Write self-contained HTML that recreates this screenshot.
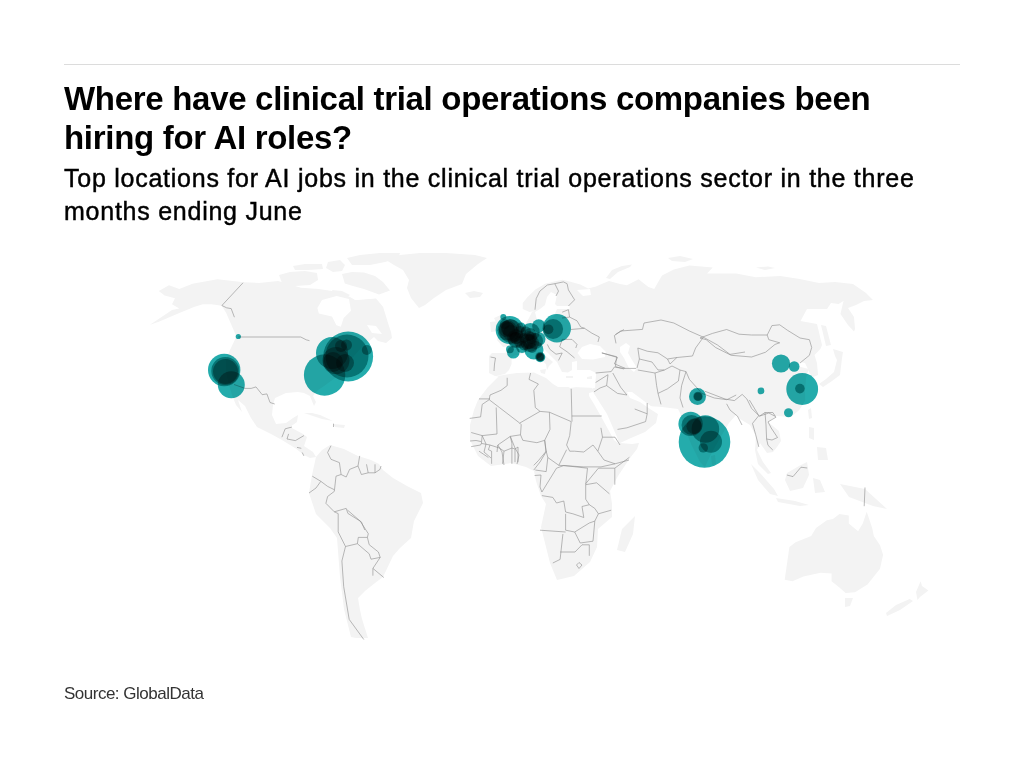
<!DOCTYPE html>
<html><head><meta charset="utf-8">
<style>
html,body{margin:0;padding:0;background:#fff;width:1024px;height:768px;overflow:hidden;position:relative;font-family:"Liberation Sans",sans-serif;}
.rule{position:absolute;left:64px;top:64px;width:896px;height:1px;background:#dcdcdc;}
.t{position:absolute;left:64px;white-space:nowrap;color:#000;}
#t1{top:80px;font-size:33px;font-weight:bold;line-height:37px;letter-spacing:-0.3px;}
#t2{top:119px;font-size:33px;font-weight:bold;line-height:37px;letter-spacing:-0.3px;}
#s1{top:162px;font-size:25px;line-height:33px;letter-spacing:0.75px;-webkit-text-stroke:0.45px #000;}
#s2{top:195px;font-size:25px;line-height:33px;letter-spacing:0.75px;-webkit-text-stroke:0.45px #000;}
#src{top:682px;font-size:17px;line-height:24px;color:#333;letter-spacing:-0.5px;}
svg{position:absolute;left:0;top:0;}
</style></head>
<body>
<div class="rule"></div>
<svg width="1024" height="768" viewBox="0 0 1024 768"><path d="M158.8,291 169,285.2 179.3,289 192.5,283.7 217.4,279.3 243.8,282.2 259,283 278,281 301,287.7 318.8,289 332,291 345,293 355,300 376,298.6 383,306.8 388,323 391,332 392,338 386,343 378,341 374,337 368,342 362,347 354,356 348,364 335,378 324,386 318,390 313,396 316,402 314,406 310,396 304,393 298,392 286,393 275,398 273,405 272,415 276,424 286,423 293,418 298,415 297,422 290,427 303,434 307,437 304,446 313,452 316,457 310,458 304,455 295,448 282,440 271,434 257,427 251,418 245,406 238,400 242,412 236,405 232,395 229,385 226,372 226,360 230,350 236.4,336.4 232,326.2 226.2,313 221.8,305.7 211.5,304.2 202.7,304.2 194,307 179.3,313 158.8,321.8 150,324.7 172,310 179.3,308.6 172,304.2 175,298.3 164.6,295.4ZM279,275 290,272 305,271 317,273 318,280 310,285 295,286 282,283ZM293,266 305,264 322,264 323,269 308,270 295,270ZM328,262 340,260 345,265 342,271 333,272 326,268ZM347,258 360,255 380,253 400,253 398,258 385,262 370,265 352,265ZM342,274 352,272 364,272.6 375,276 383,282 390,290.4 379,294.5 364,289 353,286 344.8,283.5ZM332,290 342,291 350,295 345,298 335,296ZM386,260 400,255 420,253 446,253 475,255 487,258 478,264 466,274 462,284 446,290 434,298 425,305 419,308 411,298 407,288 409,280 403,270 394,265ZM465,293 474,291 483,293 480,297 470,298ZM304,413 312,413 320,415 333,421 322,419ZM333,424 345,425 344,428 335,427ZM316,457 322,450 330,445 344,449 358,456 371,460 379,464 383,470 393,478 407,486 421,493 423,503 414,521 411,538 400,548 393,556 383,577 375,583 365,591 358,598 360,610 362,619 368,638 356,638 351,637 344,609 340,577 337,538 330,528 316,514 309,493 312,475ZM489,373 489,356 492,353 505,352.9 508,351 505,343 508,338 515,335 522,330 529,318 532,312 534.4,311 529.5,312 522.7,309 522.7,303 527.6,297 535.4,289.5 545.2,283.7 553,281.7 562.7,279.8 570.5,281.7 580.3,284.6 588.1,288.6 596,286.6 603.4,283.2 609,281 620,284 626.9,285.2 638.6,279.3 648.4,287.1 654.2,289 662,275.4 673.8,269.5 689.4,265.6 712.8,267.6 707,273.4 736.2,273.4 755.8,277.3 780,276 799.5,279 819,283 835,282 853,284 866,293 873,300 864,301 856,305 848,308 854,317 855,329 854,331.5 848,325 840.5,314 843.5,301 838.6,304 831,303 827,309 807,309 800.5,321 817,324 822,345 820.4,349 814.5,355 817,363 818,375 813.4,377 809.9,374 807.5,368 805,363 800.5,362 797,366 808.7,369 806,378 805,390 805.2,400.6 799.3,410 791,417 776,416 768,422 779,431 781,441 777,447 773,452 767,453 760,443 757,450 763,462 771,473 768,474 758,464 755,450 756,436 750,425 740,419 736,415 729,423 720,438 710,456 705,467 700,462 692,446 684,427 680,413 678,409 662,407 648,406 658,414 656,423 645,432 631,438 620,443 612,430 604,418 598,405 591,394 594,386 596,373 590,370 575,370 570,378 560,375 548,382 530,380 510,378 495,376ZM478,400 488,387 500,375 517,376 536,373 558,380 570,388 590,385 597,395 603,408 609,419 617,432 620,443 632,444 639,443 637,449 630,458 618,476 610,491 612,504 612,517 598,529 597,547 590,562 574,576 557,580 550,563 541,527 546,504 541,496 536,481 534,471 526,467 511,463 491,466 478,456 470,440 470,425 474,410ZM606,278 612,270 622,266 632,264.5 630,267 618,272 610,279ZM668,258 680,256 693,259 685,262 672,261ZM756,267.6 768,266.5 775,268 765,270ZM622,529 635,516 633,534 625,552 617,550ZM494,318 503,314 510,318 514,330 520,340 515,345 503,347 497,340 500,330ZM490,322 498,321 499,331 491,332ZM711,456 715,455 716,464 712,465ZM833,349 843,352 842,358 840,375 832,381 823,387 819,384 826,379 834,372 837,360 835,356ZM808,410 811,408 812,418 809,419ZM821,325 826,326 831,345 826,346ZM809,427 814,428 814,440 809,438ZM817,447 826,448 828,460 818,460ZM787,473 799,466 807,462 809,475 803,488 790,491 785,480ZM813,478 820,480 825,492 815,493ZM751,464 760,473 774,489 778,496 770,494 758,480ZM776,498 795,501 809,505 800,506 778,502ZM840,484 865,489 887,509 873,506 849,497ZM784.7,579.7 789.4,546.9 795.6,542.2 811.2,536 816,528 826.9,520.3 833,519 839.4,514 848.8,515.6 848.8,523.4 858.1,531.2 862.8,523.4 866.7,511.7 872.2,528.1 873.8,536 880,545.3 883.1,554.7 880,568.8 867.5,584.4 855,592.2 845.6,593 839.4,587.5 831.6,581.2 831.6,573.4 820.6,572.7 803.4,576.6 792.5,581.2ZM845,598 853,598 850,606 845,607ZM920.6,581.2 922,586 928.4,590.6 920,597 917.5,600 916,592ZM909.7,599 913,601 900,610 887,616 886,613 896,605Z" fill="#f3f3f3"/><path d="M497.6,375.5 505,374 509,370 511.6,364 511.6,358 515,355 518,355 522.5,353.8 530.7,350.6 537,347 544,349 557,362 560,368 562,372 568,372.5 572,370 572,362 577,361 577,372 590,374 596,373.5 595,388 574,387 558,387 553,384 546,378 534,372.6 517,373 497,376ZM577.5,353 582,347 590,344 600,346 606,352 605,357 593,359.5 582,359ZM620,347 626,343 630,346 628,353 632,360 637,368 634,372 629,368 624,358 620,352ZM589,393 593,392 607,414 617,437 619,444 614,440 603,420 594,404 589,396ZM627,392 632,392 648,404 657,410 658,414 650,409 640,402 630,398ZM551,292 557,295 555,304 557,306 569.6,306 569.6,309 557,309 554,316 548,320 537,320 535,312 540,309 545,305 547,297ZM577,290 590,289 591,295 583,296ZM317.4,308 322,300 336.6,296 349,299 351,310.7 343.7,318 340.8,326.8 336.4,325.3 332,316.5 318.8,313.6ZM348,296 360,294.5 376,298 356,300ZM367,325 376,326 382,334 372,333Z" fill="#fff"/><path d="M530.7,350.6 535,354 539,357.8 546,364 547,370 549,366 553,362 548,358 542,352 538,347.7 533,347ZM540,370 546,369 545,374 541,373ZM566,376 573,376 573,378 566,378ZM587,377 592,376 592,379 587,379Z" fill="#f3f3f3"/><path d="M507.2,377.8 507.2,385.6 501,390.3 490,395 489.2,399.7 482.2,404.4 480.6,416.9 469.7,418.4M479,398.9 490,398.9M489.2,399.7 499.4,407.5 519.7,423.1 540,411.4 549.4,412.2 571.2,421.6M496.2,407.5 497,434 482.2,435.6 471.2,432.5M530.6,373 529,379.4 538.4,384 533.8,390.3 535.3,407.5 540,411.4M571.2,388.8 572,421.6M571.8,416 601.7,416M519.7,423.1 521.2,424.7 520.5,434.8 510.3,436.4 497.8,445 497,452M482.2,435.6 486,444 484,452 491,458M497.8,445 502,452 504,465M510.3,436.4 515,448 519,455 517,464M549.4,412.2 550,429.4 544.7,440.3 536.9,442.7 522.8,440.3 520.5,434.8M544.7,440.3 546,452 540,462 533.8,470M571.2,421.6 569.7,435.6 566.6,445 569.7,451.2 574.4,451.2 583.8,452 593,445 597.8,451.2 602.5,437.2 600.9,427.8M547.8,457.5 558.8,465.3 566.6,449.7M558.8,465.3 583.8,466.9 601,466.9 615,463.8M602.5,437.2 615,437.2 620,445M597.8,451.2 604,460 615,463.8 629,460M534.6,475.5 541,475 540,487 541.9,492 556.5,468.2 563.8,465.5 587.5,468.2 585.7,484.7 585.7,499.2 589.3,504.7 582,506.5 583.8,517.5 572.9,513.8 565.6,512 563.8,501 556.5,503 552.8,497.4 541.9,495.6M565.6,513.8 565.6,530.2 574.7,532 589.3,523 594.8,521.1 598.4,513.8 594.8,508.4 589.3,504.7M540,530.2 565.6,532M562.9,534 560.1,559.4 552.8,563M560.1,552 575,552 582,544.8 589.3,544.8 589.3,555.8M574.7,532 580.2,543 593,541.2 594.8,521.1M585.7,484.7 596.6,482.8 609.4,493.8M585.7,483.7 598.4,468.2 614.8,468.2 629.4,457.3M614.8,468.2 614.8,484.7M598.4,513.8 611.2,510.2M576.5,565 579,562.5 582,565 579,568.5 576.5,565M614.4,335.6 620.6,331 642.5,329.4 644,323 661,320 673.8,323 689.4,331 703.4,337.2M614.4,335.6 616,343.4M637.8,348 647.2,351.2 658,352.8 667.5,359 676.9,357.5 692.5,356 695.6,348 703.4,337.2M637.8,348 639.4,359 637,368M637.8,370 655,373 664.4,370 672,366 680,370M639.4,359 652,362 658,370 664.4,370M667.5,359 670,364 676.9,357.5M680,370 678.4,381 667.5,388.8 658,393.4 661,404.4M655,373 656.6,385.6 658,393.4M680,370 686,371.6 681.6,385.6 680,398 683,407.5M686,371.6 689.4,379.4 701.9,393.4 714.4,398 726.9,399.7 736.2,395M703.4,337.2 717.5,345 730,354.4 745,352M595.6,373 611.2,371.6 614.4,367 620,368 625.3,368.4 636.2,368.4M612.8,373 620.6,387.2 626.9,395M595.6,382.5 608,374.7 606.6,385.6 617.5,393.4 626.9,395M594,391.9 600,388 606.6,385.6M634.7,409 647.2,413.8 645.6,421.6 626.9,427.8 617.5,429.4M647.2,403 647.2,413.8M601.9,352.8 617.5,357.5 614.4,363.8 625.3,368.4M700,338 712.5,333.4 726.6,329.5 739,334.2 751.6,335 767.2,335 771.9,325.6 779.7,324.8 787.5,330.3 800,338 809.4,339.7 811.7,347.5 809.4,355.3 800,363M700,338 706.2,339.7 715.6,347.5 731.2,355.3 751.6,357 765.6,352.2 775,344.4 779.7,342.8 768.8,339.7 767.2,335M704.7,391.2 725,399 734.4,400.6 742.2,394.4 746.9,399 751.6,408.4 759.4,416.2 768.8,413 775,416.2M726.6,403.8 730,410 737.5,416.2 742,425M749.4,400 758.8,415.6 752.5,423.4 755.6,434.4 758.8,446.9M759.4,416.2 765,412.5 772.8,412.5 776,417.2 768,421.9 771.2,428 777.5,437.5 772,440 766.6,439 768,445.3 772.8,450M765,412.5 766,425 766.6,439M786.9,475 793,476.6 801,467.2 807.2,468M865,487.5 864.2,506.2M535,309.7 536.2,298.6 539.9,291.1 547.3,285 554.8,283.7 563.4,281.9 567.1,283.7M554.8,283.7 558.5,291.1 556,296M567.1,283.7 568.4,289.9 574.6,299.8 568.4,306M562.2,312.2 568.4,309.7 569.6,317.1 577,320.8 580.7,327 584.5,328.3 591.9,333.2 599.3,337 598,341.9M562,318 569.6,317.1M570.8,329.5 584.5,328.3M562.2,339.4 572,339.4 577,344.4 575.8,348M547.3,344.4 549.8,349.3 556,354.2 562.2,353 558.5,360.4M559.7,346.8 567.1,351.8 574.6,358M562.2,339.4 559.7,346.8M490.5,357 495.5,358 494.5,364 494,371M601.8,353 616.6,356.7 615.4,366.6 624,369M615.4,334.5 624,329.5M331,445.7 327.6,452.5 331,459.3 339.4,462.6 341.1,474.5 336,476.2 334.3,491.4M341.1,474.5 346.2,477 349.6,469.4 358,466 359.7,455.9M358,466 361.4,474.5 368.2,472.8 366.5,464.3M368.2,472.8 375,472.8 375,464.3M375,472.8 380,469.4 381,466M312.3,476.2 320.8,481.3 327.6,486.4 334.3,489.7M320.8,481.3 316,488 309,493M334.3,491.4 327.6,496.5 325.9,503.3 334.3,511.8 346.2,508.4 347.9,513.4 361.4,521.9 364.8,530M334.3,511.8 338.2,513.6 338.2,531.9 345.5,546.5 341.9,561 343.7,586.6 349.2,619.4 363.8,639.5M347.4,510 360.1,521 368.3,533.7 367.4,537.4 358.3,537.4 357.4,543.7 345.5,546.5M367.4,537.4 369.2,544.7 378.4,552 380.2,557.4 371,559.2 369.2,553.8 357.4,543.7M380.2,557.4 372.9,568.4 372.9,575.7M372.9,568.4 383.8,577.5M243,282.8 221.9,305.5 226.6,307.8 231.2,308.6 234.4,317.2M238.3,337 300.8,337 306.2,339.8 309.5,340.7M234,384.5 245,388.4 251.2,388.4 256,386.9 262.2,394.7 266.9,393.9 270,402.5 274.7,404M292,427 285.2,428.8 281.9,437.2M288.6,433.9 287,439 295.4,440.6 303.9,435.6M297,447.4 301.3,448.3M302.2,452.5 303.9,455.9M333.5,423.7 333.5,427M481.4,443.4 482.2,435.6M471.2,446.6 480.6,445 481.4,443.4 490,445 488.4,449.7 491.6,451.2 491.6,463.8M479,451.2 483.8,454.4 488.4,457.5M470,441 476,440.5 481,441.5M490,445 499.4,448 504,451.2 511.9,448 511.9,443.4 510.3,436.4M504,451.2 502.5,463.8M511.9,448 511.9,463.8M511.9,448 515,449 515,462.2M515,449 518,447 518,462.2M546.2,451.2 538.4,460.6 533.8,465.3M544.7,440.3 546.2,451.2 547.8,457.5M535.3,470 546.2,471.6 547.8,457.5" fill="none" stroke="#8c8c8c" stroke-width="0.6"/><g fill="#24acac" style="mix-blend-mode:multiply"><g style="mix-blend-mode:multiply"><circle cx="224.2" cy="370" r="16.2"/></g><g style="mix-blend-mode:multiply"><circle cx="225.3" cy="371" r="14"/></g><g style="mix-blend-mode:multiply"><circle cx="225.5" cy="371.5" r="12.5"/></g><g style="mix-blend-mode:multiply"><circle cx="231.3" cy="384.7" r="13.5"/></g><g style="mix-blend-mode:multiply"><circle cx="238.3" cy="336.5" r="2.6"/></g><g style="mix-blend-mode:multiply"><circle cx="324.6" cy="375" r="20.7"/></g><g style="mix-blend-mode:multiply"><circle cx="348.2" cy="356.5" r="24.9"/></g><g style="mix-blend-mode:multiply"><circle cx="347" cy="356" r="21.5"/></g><g style="mix-blend-mode:multiply"><circle cx="332" cy="353" r="16"/></g><g style="mix-blend-mode:multiply"><circle cx="366.8" cy="350" r="5"/></g><g style="mix-blend-mode:multiply"><circle cx="341" cy="346" r="6"/></g><g style="mix-blend-mode:multiply"><circle cx="346.5" cy="345" r="5.5"/></g><g style="mix-blend-mode:multiply"><circle cx="345" cy="363" r="9"/></g><g style="mix-blend-mode:multiply"><circle cx="336" cy="360.6" r="13.5"/></g><g style="mix-blend-mode:multiply"><circle cx="333" cy="362" r="10"/></g><g style="mix-blend-mode:multiply"><circle cx="509.7" cy="330" r="14"/></g><g style="mix-blend-mode:multiply"><circle cx="510.5" cy="331" r="11.5"/></g><g style="mix-blend-mode:multiply"><circle cx="510.3" cy="328" r="9"/></g><g style="mix-blend-mode:multiply"><circle cx="506.8" cy="329.3" r="8"/></g><g style="mix-blend-mode:multiply"><circle cx="507.5" cy="330.5" r="10"/></g><g style="mix-blend-mode:multiply"><circle cx="504.8" cy="324.3" r="5"/></g><g style="mix-blend-mode:multiply"><circle cx="503.3" cy="317" r="3"/></g><g style="mix-blend-mode:multiply"><circle cx="516" cy="338" r="9"/></g><g style="mix-blend-mode:multiply"><circle cx="516" cy="338" r="6"/></g><g style="mix-blend-mode:multiply"><circle cx="520" cy="332" r="6"/></g><g style="mix-blend-mode:multiply"><circle cx="521" cy="327.5" r="5"/></g><g style="mix-blend-mode:multiply"><circle cx="530.4" cy="332.2" r="9.3"/></g><g style="mix-blend-mode:multiply"><circle cx="527.6" cy="341.6" r="8"/></g><g style="mix-blend-mode:multiply"><circle cx="529.8" cy="342.1" r="7"/></g><g style="mix-blend-mode:multiply"><circle cx="538.5" cy="339" r="7"/></g><g style="mix-blend-mode:multiply"><circle cx="538.7" cy="325.9" r="6.6"/></g><g style="mix-blend-mode:multiply"><circle cx="534" cy="350" r="9.5"/></g><g style="mix-blend-mode:multiply"><circle cx="532" cy="348" r="5"/></g><g style="mix-blend-mode:multiply"><circle cx="540.2" cy="357.1" r="5.1"/></g><g style="mix-blend-mode:multiply"><circle cx="540.2" cy="357.1" r="4.3"/></g><g style="mix-blend-mode:multiply"><circle cx="513.3" cy="352.2" r="6.3"/></g><g style="mix-blend-mode:multiply"><circle cx="509.9" cy="349.3" r="3.9"/></g><g style="mix-blend-mode:multiply"><circle cx="522" cy="347" r="6"/></g><g style="mix-blend-mode:multiply"><circle cx="556.8" cy="328.3" r="14.2"/></g><g style="mix-blend-mode:multiply"><circle cx="553.1" cy="329" r="10"/></g><g style="mix-blend-mode:multiply"><circle cx="548.5" cy="329.3" r="4.9"/></g><g style="mix-blend-mode:multiply"><circle cx="516" cy="337" r="7"/></g><g style="mix-blend-mode:multiply"><circle cx="515" cy="337" r="5"/></g><g style="mix-blend-mode:multiply"><circle cx="530" cy="334" r="6"/></g><g style="mix-blend-mode:multiply"><circle cx="530" cy="343" r="9"/></g><g style="mix-blend-mode:multiply"><circle cx="528" cy="344" r="5"/></g><g style="mix-blend-mode:multiply"><circle cx="535" cy="341" r="8"/></g><g style="mix-blend-mode:multiply"><circle cx="531" cy="337.9" r="6"/></g><g style="mix-blend-mode:multiply"><circle cx="529.5" cy="336" r="5"/></g><g style="mix-blend-mode:multiply"><circle cx="525.9" cy="331.6" r="5"/></g><g style="mix-blend-mode:multiply"><circle cx="524" cy="345.4" r="5"/></g><g style="mix-blend-mode:multiply"><circle cx="508" cy="329" r="7"/></g><g style="mix-blend-mode:multiply"><circle cx="511" cy="333" r="8"/></g><g style="mix-blend-mode:multiply"><circle cx="540.2" cy="357.1" r="3.5"/></g><g style="mix-blend-mode:multiply"><circle cx="516" cy="340" r="8"/></g><g style="mix-blend-mode:multiply"><circle cx="520" cy="342" r="6"/></g><g style="mix-blend-mode:multiply"><circle cx="524" cy="338" r="5"/></g><g style="mix-blend-mode:multiply"><circle cx="540.2" cy="357.1" r="4"/></g><g style="mix-blend-mode:multiply"><circle cx="697.5" cy="396.6" r="8.5"/></g><g style="mix-blend-mode:multiply"><circle cx="698" cy="396.4" r="4.7"/></g><g style="mix-blend-mode:multiply"><circle cx="698" cy="396.4" r="4"/></g><g style="mix-blend-mode:multiply"><circle cx="704.5" cy="442" r="25.8"/></g><g style="mix-blend-mode:multiply"><circle cx="690.6" cy="423.9" r="12.2"/></g><g style="mix-blend-mode:multiply"><circle cx="694.2" cy="426.3" r="7.8"/></g><g style="mix-blend-mode:multiply"><circle cx="691.5" cy="425" r="10"/></g><g style="mix-blend-mode:multiply"><circle cx="705.4" cy="429" r="13.8"/></g><g style="mix-blend-mode:multiply"><circle cx="711" cy="441.8" r="11"/></g><g style="mix-blend-mode:multiply"><circle cx="703.3" cy="447.9" r="4.7"/></g><g style="mix-blend-mode:multiply"><circle cx="781" cy="363.5" r="9.1"/></g><g style="mix-blend-mode:multiply"><circle cx="794.2" cy="366.5" r="5.3"/></g><g style="mix-blend-mode:multiply"><circle cx="802.2" cy="389" r="15.9"/></g><g style="mix-blend-mode:multiply"><circle cx="799.9" cy="388.6" r="4.8"/></g><g style="mix-blend-mode:multiply"><circle cx="761" cy="390.9" r="3.4"/></g><g style="mix-blend-mode:multiply"><circle cx="788.5" cy="412.7" r="4.5"/></g></g></svg>
<div class="t" id="t1">Where have clinical trial operations companies been</div>
<div class="t" id="t2">hiring for AI roles?</div>
<div class="t" id="s1">Top locations for AI jobs in the clinical trial operations sector in the three</div>
<div class="t" id="s2">months ending June</div>
<div class="t" id="src">Source: GlobalData</div>
</body></html>
